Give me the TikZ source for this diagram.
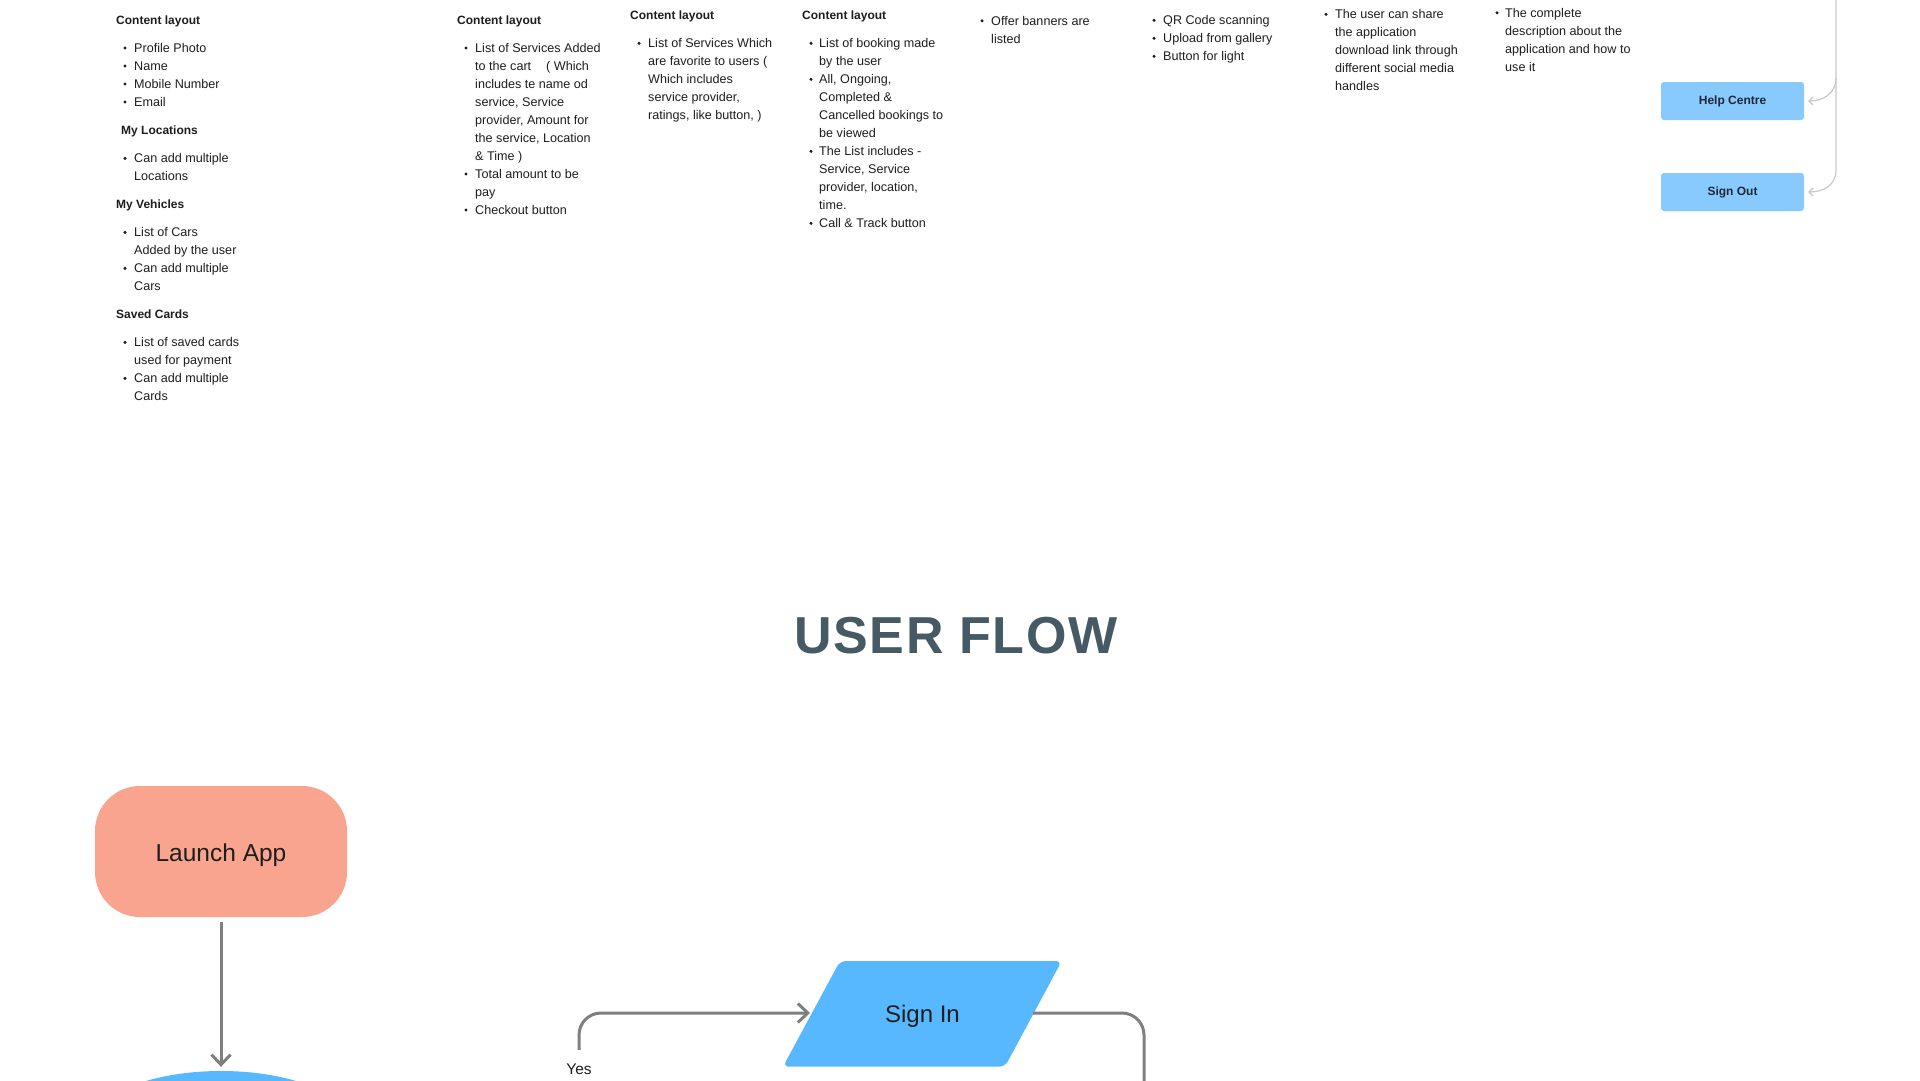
\documentclass[tikz,border=0pt]{standalone}
\usepackage{fontspec}
\setmainfont{Liberation Sans}
\newfontfamily\titlefont[LetterSpace=3]{Liberation Sans}
\usetikzlibrary{arrows.meta,calc,shapes.geometric}
\definecolor{txt}{HTML}{1E1E1E}
\definecolor{btntxt}{HTML}{1F2937}
\definecolor{salmon}{HTML}{F8A48F}
\definecolor{skyblue}{HTML}{57B8FF}
\definecolor{lightblue}{HTML}{88CAFD}
\definecolor{titlec}{HTML}{455A64}
\definecolor{flowgray}{HTML}{7F7F7F}
\definecolor{thingray}{HTML}{C8C8C8}
\newcommand\colitems[5]{%
  \foreach \b/\t [count=\i] in {#5}{%
    \node[body] (#1\i) at (#2, #4+18*\i-18) {\t};
    \ifnum\b=1 \node[dot] (#1d\i) at (#3, #4+18*\i-18-4.2) {};\fi
  }}
\begin{document}
\begin{tikzpicture}[x=1pt,y=-1pt,
  body/.style={anchor=base west, inner sep=0pt, font=\fontsize{12.6}{15}\selectfont, text=txt},
  head/.style={anchor=base west, inner sep=0pt, font=\fontsize{12}{14}\selectfont\bfseries, text=txt},
  dot/.style={circle, fill=txt, inner sep=0pt, minimum size=3.4pt},
  btn/.style={rectangle, rounded corners=3pt, fill=lightblue, minimum width=143pt, minimum height=38pt, inner sep=0pt, font=\fontsize{12}{14}\selectfont\bfseries, text=btntxt},
  gl/.style={draw=thingray, line width=1.2pt, -{Straight Barb[length=4pt,width=8pt]}},
  flow/.style={draw=flowgray, line width=3pt, -{Straight Barb[length=10pt,width=19pt]}},
  plain/.style={draw=flowgray, line width=3pt},
  launch/.style={rectangle, rounded corners=45pt, fill=salmon, minimum width=252pt, minimum height=131pt, inner sep=0pt, font=\fontsize{24.5}{28}\selectfont, text=txt},
  bigtext/.style={inner sep=0pt, font=\fontsize{24}{28}\selectfont, text=txt},
  yeslbl/.style={inner sep=0pt, font=\fontsize{15.5}{18}\selectfont, text=txt},
  title/.style={inner sep=0pt, font=\titlefont\bfseries\fontsize{52}{60}\selectfont, text=titlec}
]
\fill[white] (0,0) rectangle (1920,1080);
\useasboundingbox (0,0) rectangle (1920,1080);

% Column 1
\node[head] (c1h1) at (116,24.5) {Content layout};
\colitems{c1a}{134}{125}{52.2}{1/Profile Photo,1/Name,1/Mobile Number,1/Email}
\node[head] (c1h2) at (121,134.5) {My Locations};
\colitems{c1b}{134}{125}{162.5}{1/Can add multiple,0/Locations}
\node[head] (c1h3) at (116,208.5) {My Vehicles};
\colitems{c1c}{134}{125}{236.5}{1/List of Cars,0/Added by the user,1/Can add multiple,0/Cars}
\node[head] (c1h4) at (116,318.5) {Saved Cards};
\colitems{c1d}{134}{125}{346.5}{1/List of saved cards,0/used for payment,1/Can add multiple,0/Cards}

% Column 2
\node[head] (c2h) at (457,24.5) {Content layout};
\colitems{c2}{475}{466}{52.2}{1/List of Services Added,0/to the cart\hspace*{15pt}( Which,0/includes te name od,0/{service, Service},0/{provider, Amount for},0/{the service, Location},0/\& Time ),1/Total amount to be,0/pay,1/Checkout button}

% Column 3
\node[head] (c3h) at (630,19.5) {Content layout};
\colitems{c3}{648}{639}{47.5}{1/List of Services Which,0/are favorite to users (,0/Which includes,0/{service provider,},0/{ratings, like button, )}}

% Column 4
\node[head] (c4h) at (802,19.5) {Content layout};
\colitems{c4}{819}{811}{47.5}{1/List of booking made,0/by the user,1/{All, Ongoing,},0/Completed \&,0/Cancelled bookings to,0/be viewed,1/The List includes -,0/{Service, Service},0/{provider, location,},0/time.,1/Call \& Track button}

% Columns 5-8
\colitems{c5}{991}{982}{25}{1/Offer banners are,0/listed}
\colitems{c6}{1163}{1154}{24.5}{1/QR Code scanning,1/Upload from gallery,1/Button for light}
\colitems{c7}{1335}{1326}{18.5}{1/The user can share,0/the application,0/download link through,0/different social media,0/handles}
\colitems{c8}{1505}{1497}{17}{1/The complete,0/description about the,0/application and how to,0/use it}

% Right buttons
\node[btn] (help) at (1732.5,101) {Help Centre};
\node[btn] (signout) at (1732.5,192) {Sign Out};
\coordinate (vtop) at (1836,-2);
\coordinate (vh) at (1836,78);
\coordinate (vs) at (1836,170);
\draw[gl] (vtop) -- (vs) .. controls +(0,16) and +(14,0) .. ($(signout.east)+(4,0)$);
\draw[gl] (vh) .. controls +(0,16) and +(14,0) .. ($(help.east)+(4,0)$);

% Title
\node[title] (title) at (956,636) {USER FLOW};

% Flow
\node[launch] (launch) at (221,851.5) {};
\node[bigtext, font=\fontsize{24.5}{28}\selectfont] (launchtxt) at (221,855) {Launch App};
\node[ellipse, fill=skyblue, minimum width=252pt, minimum height=102pt, inner sep=0pt] (home) at (221,1122) {};
\draw[flow, shorten <=5pt, shorten >=4pt] (launch.south) -- (home.north);

\fill[skyblue, rounded corners=6pt] (840,961) -- (1061.7,961) -- (1005,1066.7) -- (783,1066.7) -- cycle;
\node[bigtext] (signin) at (922.5,1016.5) {Sign In};
\coordinate (sinW) at (810,1013);
\coordinate (sinE) at (1033,1013);

\node[yeslbl] (yes) at (579,1069) {Yes};
\coordinate (yesTop) at (579,1050);
\draw[flow, rounded corners=22pt] (yesTop) |- (sinW);
\coordinate (rdown) at (1144,1095);
\draw[plain, rounded corners=22pt] (sinE) -| (rdown);
\end{tikzpicture}
\end{document}
